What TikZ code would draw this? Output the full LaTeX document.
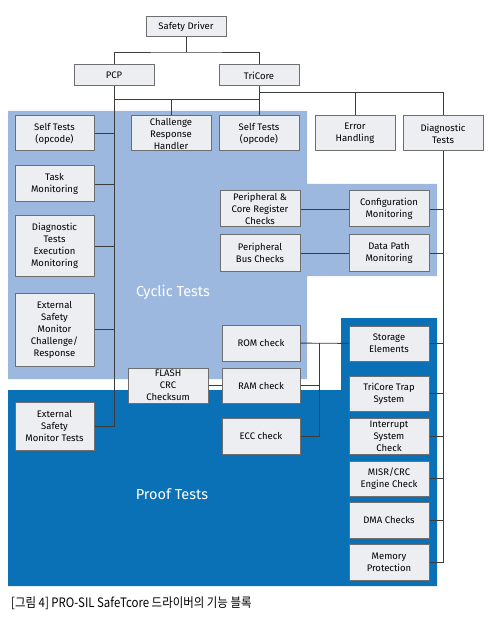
\documentclass[tikz,border=0pt]{standalone}
\usepackage{fontspec}
\setmainfont{Fira Sans}
\newfontfamily\krfont[FakeStretch=0.88]{Noto Sans CJK KR}
\usepackage{tikz}

\definecolor{cyclicblue}{HTML}{9DB8DF}
\definecolor{proofblue}{HTML}{0A71B6}
\definecolor{boxfill}{HTML}{EDEEF2}
\definecolor{boxline}{HTML}{6E6E6E}
\definecolor{wire}{HTML}{3C3C3C}

\begin{document}
\begin{tikzpicture}[x=1pt,y=-1pt,
  blk/.style={draw=boxline,fill=boxfill,line width=1pt,minimum width=80pt,minimum height=36pt,
    inner sep=1pt,align=center,font=\fontsize{9.5}{12}\selectfont},
  wires/.style={draw=wire,line width=0.9pt},
  area/.style={text=white,font=\fontsize{14.5}{16}\selectfont}]
\useasboundingbox (0,0) rectangle (489,617);

\fill[cyclicblue] (8,111) -- (307,111) -- (307,184) -- (437,184) -- (437,276) -- (307,276)
  -- (307,379) -- (8,379) -- cycle;
\fill[proofblue] (8,390) -- (341,390) -- (341,318) -- (437,318) -- (437,586) -- (8,586) -- cycle;
\node[area] (cyc) at (173,292) {Cyclic Tests};
\node[area] (prf) at (172,494) {Proof Tests};

\node [blk,minimum height=20pt] (sd) at (186,27) {Safety Driver};
\node [blk,minimum height=21pt] (pcp) at (114,75.5) {PCP};
\node [blk,minimum height=21pt] (tri) at (259,75.5) {TriCore};

\node [blk,minimum width=79pt,minimum height=35pt] (st1) at (54.5,133.5) {Self Tests\\(opcode)};
\node [blk,minimum height=35pt] (crh) at (171,133.5) {Challenge\\Response\\Handler};
\node [blk,minimum height=35pt] (st2) at (259,133.5) {Self Tests\\(opcode)};
\node [blk,minimum height=35pt] (err) at (355,133.5) {Error\\Handling};
\node [blk,minimum height=35pt] (diag) at (443,133.5) {Diagnostic\\Tests};

\node [blk,minimum width=79pt] (task) at (54.5,184) {Task\\Monitoring};
\node [blk,minimum width=79pt,minimum height=60pt] (dtem) at (54.5,246) {Diagnostic\\Tests\\Execution\\Monitoring};
\node [blk,minimum width=79pt,minimum height=73pt] (esmc) at (54.5,329.5) {External\\Safety\\Monitor\\Challenge/\\Response};
\node [blk,minimum width=79pt,minimum height=48pt] (esmt) at (54.5,426) {External\\Safety\\Monitor Tests};

\node [blk] (prc) at (260,209) {Peripheral \&\\Core Register\\Checks};
\node [blk] (cfg) at (389,209) {Configuration\\Monitoring};
\node [blk] (pbc) at (260,253) {Peripheral\\Bus Checks};
\node [blk] (dpm) at (389,253) {Data Path\\Monitoring};

\node [blk,minimum width=78pt] (rom) at (261,343) {ROM check};
\node [blk,minimum width=78pt,minimum height=35pt] (ram) at (261,385.5) {RAM check};
\node [blk,minimum height=35pt] (flash) at (168,385.5) {FLASH\\CRC\\Checksum};
\node [blk,minimum width=78pt] (ecc) at (261,436) {ECC check};

\node [blk,minimum height=35pt] (stor) at (389,343.5) {Storage\\Elements};
\node [blk,minimum height=35pt] (trap) at (389,393.5) {TriCore Trap\\System};
\node [blk] (intr) at (389,436) {Interrupt\\System\\Check};
\node [blk,minimum height=35pt] (misr) at (389,478.5) {MISR/CRC\\Engine Check};
\node [blk] (dma) at (389,520) {DMA Checks};
\node [blk] (memp) at (389,562) {Memory\\Protection};

\coordinate (topbus) at (186,52);
\coordinate (pbus) at (114,99);
\coordinate (tbus) at (259,92);
\coordinate (mbus) at (319,343);

\draw[wires] (sd) -- (topbus);
\draw[wires] (pcp.north) |- (topbus) -| (tri.north);
\draw[wires] (pcp.south) |- (esmt.east);
\draw[wires] (pbus) -- (pbus -| tri);
\draw[wires] (crh.north) -- (crh.north |- pbus);
\draw[wires] (tri.south) -- (st2.north);
\draw[wires] (tbus) -| (err.north);
\draw[wires] (tbus) -| (diag.north);
\draw[wires] (diag.south) |- (memp.east);
\foreach \n in {st1,task,dtem,esmc}
  \draw[wires] (\n.east) -- (\n.east -| pcp);
\foreach \n in {cfg,dpm,stor,trap,intr,misr,dma}
  \draw[wires] (\n.east) -- (\n.east -| diag);
\draw[wires] (prc) -- (cfg);
\draw[wires] (pbc) -- (dpm);
\draw[wires] (rom) -- (stor);
\draw[wires] (mbus) |- (ecc.east);
\draw[wires] (ram.east) -- (ram.east -| mbus);
\draw[wires] (flash) -- (ram);

\node[anchor=west,inner sep=0pt,font=\krfont\fontsize{13}{15}\selectfont] (cap) at (11,603)
  {[그림 4] PRO-SIL SafeTcore 드라이버의 기능 블록};
\end{tikzpicture}
\end{document}
